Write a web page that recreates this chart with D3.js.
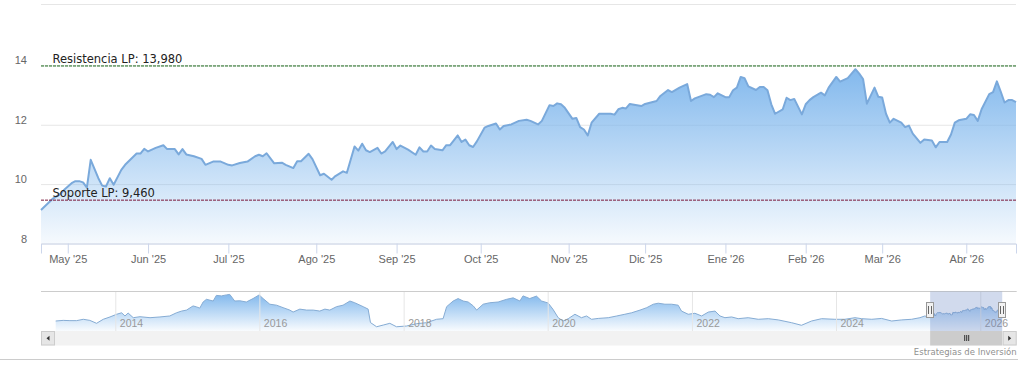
<!DOCTYPE html>
<meta charset="utf-8">
<style>
body { margin: 0; background: #fff; }
svg { font-family: "DejaVu Sans", sans-serif; }
.grid line { stroke: #e6e6e6; }
.grid path { display: none; }
.axis--x path, .axis--x line { stroke: #ccd6eb; }
.axis text { fill: #666; font-size: 11px; }
.nav-axis line { stroke: #e6e6e6; }
.nav-axis path { display: none; }
.nav-axis text { fill: #999; font-size: 10.5px; }
</style>
<body>
<script src="https://d3js.org/d3.v7.min.js"></script>
<script>

// Daily closes shown in the main window
var mainDates = ["2025-04-22","2025-04-25","2025-04-29","2025-04-30","2025-05-05","2025-05-06","2025-05-07","2025-05-08","2025-05-09","2025-05-12",
  "2025-05-14","2025-05-15","2025-05-16","2025-05-19","2025-05-20","2025-05-22","2025-05-23","2025-05-28","2025-05-29","2025-05-30",
  "2025-06-02","2025-06-04","2025-06-06","2025-06-09","2025-06-11","2025-06-12","2025-06-13","2025-06-16","2025-06-18","2025-06-20",
  "2025-06-23","2025-06-25","2025-06-27","2025-07-01","2025-07-02","2025-07-04","2025-07-08","2025-07-10","2025-07-11","2025-07-14",
  "2025-07-15","2025-07-17","2025-07-21","2025-07-22","2025-07-24","2025-07-25","2025-07-28","2025-07-30","2025-07-31","2025-08-04",
  "2025-08-05","2025-08-07","2025-08-08","2025-08-12","2025-08-13","2025-08-15","2025-08-18","2025-08-19","2025-08-20","2025-08-21",
  "2025-08-25","2025-08-26","2025-08-27","2025-08-29","2025-09-01","2025-09-02","2025-09-04","2025-09-08","2025-09-09","2025-09-10",
  "2025-09-11","2025-09-12","2025-09-15","2025-09-17","2025-09-18","2025-09-19","2025-09-23","2025-09-24","2025-09-25","2025-09-26",
  "2025-09-29","2025-09-30","2025-10-02","2025-10-03","2025-10-07","2025-10-08","2025-10-09","2025-10-13","2025-10-14","2025-10-15",
  "2025-10-17","2025-10-20","2025-10-22","2025-10-23","2025-10-27","2025-10-28","2025-10-29","2025-10-30","2025-10-31","2025-11-04",
  "2025-11-05","2025-11-06","2025-11-07","2025-11-10","2025-11-11","2025-11-13","2025-11-18","2025-11-19","2025-11-20","2025-11-21",
  "2025-11-24","2025-11-25","2025-11-28","2025-12-01","2025-12-04","2025-12-05","2025-12-09","2025-12-10","2025-12-12","2025-12-16",
  "2025-12-17","2025-12-18","2025-12-23","2025-12-24","2025-12-29","2025-12-30","2026-01-02","2026-01-05","2026-01-06","2026-01-07",
  "2026-01-08","2026-01-09","2026-01-12","2026-01-14","2026-01-15","2026-01-16","2026-01-19","2026-01-20","2026-01-21","2026-01-23",
  "2026-01-26","2026-01-27","2026-01-28","2026-01-30","2026-02-02","2026-02-03","2026-02-04","2026-02-06","2026-02-09","2026-02-10",
  "2026-02-12","2026-02-13","2026-02-17","2026-02-19","2026-02-20","2026-02-23","2026-02-24","2026-02-26","2026-02-27","2026-03-02",
  "2026-03-03","2026-03-04","2026-03-05","2026-03-09","2026-03-10","2026-03-11","2026-03-12","2026-03-16","2026-03-17","2026-03-19",
  "2026-03-20","2026-03-23","2026-03-25","2026-03-26","2026-03-27","2026-03-30","2026-04-01","2026-04-02","2026-04-07","2026-04-08",
  "2026-04-09","2026-04-13","2026-04-14","2026-04-15","2026-04-16","2026-04-17","2026-04-20","2026-04-21","2026-04-22"];
var mainCloses = [9.13,9.50,9.66,9.80,10.03,10.10,10.10,10.06,9.88,10.82,
  10.20,9.95,9.92,10.20,9.98,10.48,10.65,11.03,11.03,11.19,
  11.10,11.22,11.31,11.18,11.18,11.00,11.18,11.00,10.94,10.85,
  10.65,10.76,10.76,10.65,10.63,10.71,10.76,10.94,10.99,10.94,
  11.04,10.70,10.72,10.65,10.54,10.77,10.77,11.02,10.84,10.30,
  10.35,10.15,10.27,10.43,10.38,11.27,11.13,11.36,11.14,11.08,
  11.22,11.03,11.10,11.42,11.18,11.30,11.16,10.99,11.24,11.10,
  11.10,11.30,11.18,11.14,11.31,11.31,11.64,11.42,11.50,11.31,
  11.25,11.44,11.90,11.96,12.04,11.84,11.96,12.01,12.07,12.13,
  12.17,12.13,12.01,12.13,12.66,12.63,12.72,12.69,12.57,12.20,
  12.23,11.92,11.84,11.64,12.07,12.37,12.37,12.34,12.52,12.57,
  12.55,12.70,12.63,12.70,12.80,12.97,13.17,13.10,13.25,13.37,
  12.80,12.89,13.03,13.01,12.93,13.06,12.93,12.93,13.16,13.25,
  13.61,13.57,13.29,13.17,13.27,13.27,13.16,12.69,12.37,12.52,
  12.91,12.83,12.87,12.35,12.69,12.83,12.93,13.08,12.99,13.25,
  13.61,13.45,13.57,13.87,13.72,13.54,12.71,13.25,12.94,12.92,
  12.37,12.07,12.20,12.07,11.92,11.97,11.70,11.39,11.50,11.47,
  11.24,11.42,11.42,11.67,12.07,12.15,12.20,12.35,12.33,12.13,
  12.52,13.03,13.10,13.46,13.12,12.75,12.83,12.83,12.76];

// Market holidays inside the window (no trading, no slot on the ordinal axis)
var holidays = ["2025-05-01","2025-12-25","2025-12-26","2026-01-01","2026-04-03","2026-04-06"];

var monthNames = ["Ene","Feb","Mar","Abr","May","Jun","Jul","Ago","Sep","Oct","Nov","Dic"];

// Long-term levels
var levelValues = [13.98, 9.46];
var levelLabels = ["Resistencia LP: 13,980", "Soporte LP: 9,460"];

var yTicks = [8, 10, 12, 14];

// Navigator history before the main window
var navDates = ["2013-03-05","2013-04-12","2013-05-16","2013-06-19","2013-07-23","2013-08-25","2013-09-28","2013-11-01","2013-12-05","2014-01-08",
  "2014-02-02","2014-02-19","2014-03-07","2014-04-02","2014-05-06","2014-06-26","2014-08-15","2014-10-04","2014-11-07","2014-12-03",
  "2014-12-28","2015-01-30","2015-02-17","2015-03-05","2015-03-22","2015-04-08","2015-05-12","2015-05-28","2015-06-23","2015-07-18",
  "2015-08-04","2015-08-29","2015-09-24","2015-10-27","2015-11-30","2015-12-31","2016-01-20","2016-02-23","2016-03-28","2016-04-30",
  "2016-06-03","2016-06-20","2016-07-24","2016-08-27","2016-09-30","2016-11-02","2016-11-28","2016-12-23","2017-01-26","2017-02-28",
  "2017-04-04","2017-04-28","2017-06-10","2017-07-05","2017-07-17","2017-08-17","2017-09-20","2017-10-23","2017-11-26","2018-01-16",
  "2018-03-07","2018-04-27","2018-06-17","2018-07-20","2018-08-07","2018-09-09","2018-10-04","2018-10-30","2018-11-24","2018-12-20",
  "2019-01-06","2019-02-08","2019-03-13","2019-04-25","2019-06-07","2019-07-10","2019-08-13","2019-08-29","2019-10-02","2019-11-05",
  "2019-12-01","2020-01-03","2020-01-28","2020-02-23","2020-03-19","2020-04-14","2020-05-18","2020-06-20","2020-07-16","2020-08-10",
  "2020-09-13","2020-11-03","2020-12-16","2021-01-26","2021-03-01","2021-04-13","2021-05-17","2021-06-19","2021-07-14","2021-08-17",
  "2021-09-20","2021-10-23","2021-11-09","2021-12-13","2022-01-16","2022-02-19","2022-03-25","2022-04-28","2022-05-23","2022-06-17",
  "2022-07-21","2022-08-23","2022-10-13","2022-12-03","2023-01-23","2023-03-14","2023-05-21","2023-07-10","2023-08-30","2023-10-20",
  "2023-12-26","2024-02-15","2024-04-06","2024-05-10","2024-06-30","2024-08-19","2024-10-09","2024-11-29","2025-01-18","2025-03-01",
  "2025-03-26"];
var navCloses = [7.75,8.0,7.9,7.9,8.45,8.0,6.8,8.45,9.4,10.5,
  11.1,9.8,11.0,9.1,9.5,9.1,9.4,9.8,11.1,11.8,
  12.2,13.9,13.5,13.0,15.5,16.6,15.9,18.2,18.0,18.4,
  18.6,15.9,16.0,15.5,16.9,18.4,16.9,14.6,14.2,13.2,
  12.2,11.4,12.6,12.2,12.2,11.8,12.6,12.2,13.6,14.2,
  15.9,15.2,13.6,12.6,7.1,5.4,6.1,6.8,5.4,5.7,
  6.65,7.05,8.45,8.7,13.6,15.9,16.9,15.9,15.5,13.9,
  12.2,14.6,15.2,15.5,16.6,17.2,15.9,18.0,16.9,17.9,
  15.9,15.1,12.5,9.1,7.75,8.7,10.5,9.1,9.8,8.45,
  8.8,9.1,9.8,10.5,11.1,12.2,13.2,14.6,15.0,14.6,
  14.6,14.2,11.8,10.5,10.9,9.8,11.4,11.8,9.8,9.1,
  9.4,8.7,9.1,8.45,8.7,8.2,7.05,6.0,7.75,8.7,
  8.45,8.45,9.1,8.7,8.45,8.8,7.75,8.2,8.45,9.1,
  9.8];

var parse = d3.timeParse("%Y-%m-%d");
var fmt = d3.timeFormat("%Y-%m-%d");

// trading calendar: weekdays without holidays, so the axis is ordinal like the original
var days = d3.timeDay.range(parse(mainDates[0]), d3.timeDay.offset(parse(mainDates[mainDates.length - 1]), 1))
  .filter(function(d) { return d.getDay() != 0 && d.getDay() != 6 && holidays.indexOf(fmt(d)) < 0; });
var dayIndex = {};
days.forEach(function(d, i) { dayIndex[fmt(d)] = i; });

var series = mainDates.map(function(d, i) { return { i: dayIndex[d], date: parse(d), v: mainCloses[i] }; });

// first trading day of every month gets a tick
var monthTicks = [];
days.forEach(function(d, i) {
  if (i > 0 && d.getMonth() != days[i - 1].getMonth()) monthTicks.push(i);
});

var svg = d3.select("body").append("svg").attr("width", 1026).attr("height", 370);

var plotLeft = 41, plotRight = 1016, plotTop = 4.5, plotBottom = 243.5;

var x = d3.scaleLinear().domain([0, days.length - 1]).range([plotLeft, plotRight]);
var y = d3.scaleLinear().domain([8, 16.05]).range([plotBottom, plotTop]);

var defs = svg.append("defs");
function gradient(id, a, b) {
  var g = defs.append("linearGradient").attr("id", id)
    .attr("x1", 0).attr("y1", 0).attr("x2", 0).attr("y2", 1);
  g.append("stop").attr("offset", 0).attr("stop-color", "#7cb5ec").attr("stop-opacity", a);
  g.append("stop").attr("offset", 1).attr("stop-color", "#7cb5ec").attr("stop-opacity", b);
}
gradient("mainFill", 0.95, 0.07);
gradient("navFill", 0.95, 0.05);

// top border
svg.append("line")
  .attr("x1", plotLeft).attr("x2", plotRight).attr("y1", plotTop).attr("y2", plotTop)
  .attr("stroke", "#e6e6e6");

// horizontal grid + y labels
var yAxis = svg.append("g")
  .attr("class", "axis grid")
  .attr("transform", "translate(" + plotLeft + ",0)")
  .call(d3.axisLeft(y).tickValues(yTicks).tickSize(-(plotRight - plotLeft)).tickFormat(d3.format("d")));
yAxis.selectAll("text").attr("x", -14).attr("y", -1.5).attr("dy", 0);

// area + line
var area = d3.area()
  .x(function(d) { return x(d.i); })
  .y0(plotBottom)
  .y1(function(d) { return y(d.v); });

var line = d3.line()
  .x(function(d) { return x(d.i); })
  .y(function(d) { return y(d.v); });

svg.append("path")
  .attr("d", area(series))
  .attr("fill", "url(#mainFill)");

svg.append("path")
  .attr("d", line(series))
  .attr("fill", "none")
  .attr("stroke", "#7aa9db")
  .attr("stroke-width", 2)
  .attr("stroke-linejoin", "round");

// x axis
var xAxis = svg.append("g")
  .attr("class", "axis axis--x")
  .attr("transform", "translate(0," + plotBottom + ")")
  .call(d3.axisBottom(x).tickValues(monthTicks).tickSize(10)
    .tickFormat(function(i) {
      var d = days[i];
      return monthNames[d.getMonth()] + " '" + String(d.getFullYear()).slice(2);
    }));
xAxis.selectAll("text").attr("y", 19.5).attr("dy", 0);

// resistance / support
var levelColors = ["#1d6b1d", "#7a1638"];
levelValues.forEach(function(v, i) {
  svg.append("line")
    .attr("x1", plotLeft).attr("x2", plotRight)
    .attr("y1", y(v)).attr("y2", y(v))
    .attr("stroke", levelColors[i])
    .attr("stroke-dasharray", "3,1");
  svg.append("text")
    .attr("x", plotLeft + 11.5)
    .attr("y", y(v) - 3)
    .attr("font-size", "11.5px")
    .attr("fill", "#222")
    .text(levelLabels[i]);
});

// ---- navigator ----
var navTop = 291, navBottom = 331, navRight = 1016.7;

var navSeries = navDates.map(function(d, i) { return { date: parse(d), v: navCloses[i] }; })
  .concat(series.map(function(d) { return { date: d.date, v: d.v }; }));

var nx = d3.scaleTime()
  .domain([new Date(2014, 0, 1), new Date(2026, 0, 1)])
  .range([115.3, 980.3]);
var ny = d3.scaleLinear().domain([3.67, 19.99]).range([navBottom, navTop]);

var navAxis = svg.append("g")
  .attr("class", "nav-axis")
  .attr("transform", "translate(0," + navBottom + ")")
  .call(d3.axisTop(nx).ticks(d3.timeYear.every(2)).tickSize(navBottom - navTop).tickFormat(d3.timeFormat("%Y")));
navAxis.selectAll("text").attr("text-anchor", "start").attr("x", 4).attr("y", -4).attr("dy", 0);

svg.append("path")
  .datum(navSeries)
  .attr("d", d3.area().x(function(d) { return nx(d.date); }).y0(navBottom).y1(function(d) { return ny(d.v); }))
  .attr("fill", "url(#navFill)");
svg.append("path")
  .datum(navSeries)
  .attr("d", d3.line().x(function(d) { return nx(d.date); }).y(function(d) { return ny(d.v); }))
  .attr("fill", "none")
  .attr("stroke", "#86acd4")
  .attr("stroke-width", 1);

// year labels sit over the series
navAxis.raise();

svg.append("line")
  .attr("x1", plotLeft).attr("x2", navRight).attr("y1", navTop + 0.5).attr("y2", navTop + 0.5)
  .attr("stroke", "#cccccc");

var x0 = nx(series[0].date), x1 = nx(series[series.length - 1].date);

svg.append("rect")
  .attr("x", x0).attr("y", navTop + 0.5)
  .attr("width", x1 - x0).attr("height", navBottom - navTop - 0.5)
  .attr("fill", "rgba(102,133,194,0.3)");

// scrollbar
var sbTop = navBottom, sbH = 14.5, btn = 14;
svg.append("rect").attr("x", plotLeft).attr("y", sbTop).attr("width", navRight - plotLeft).attr("height", sbH)
  .attr("fill", "#f2f2f2");
svg.append("rect").attr("x", x0).attr("y", sbTop).attr("width", x1 - x0).attr("height", sbH)
  .attr("fill", "#cccccc");
[-2, 0, 2].forEach(function(o) {
  svg.append("line")
    .attr("x1", (x0 + x1) / 2 + o + 0.5).attr("x2", (x0 + x1) / 2 + o + 0.5)
    .attr("y1", sbTop + 4).attr("y2", sbTop + 10)
    .attr("stroke", "#333");
});
// dir -1 = arrow pointing left, 1 = right
[[plotLeft, -1], [navRight - btn, 1]].forEach(function(b) {
  svg.append("rect").attr("x", b[0] + 0.5).attr("y", sbTop + 0.5).attr("width", btn - 1).attr("height", sbH - 1)
    .attr("fill", "#e6e6e6").attr("stroke", "#cccccc");
  var cx = b[0] + btn / 2, cy = sbTop + sbH / 2, d = b[1];
  svg.append("path")
    .attr("d", "M" + (cx + 1.5 * d) + "," + cy + "L" + (cx - 1.5 * d) + "," + (cy - 2.5) + "L" + (cx - 1.5 * d) + "," + (cy + 2.5) + "Z")
    .attr("fill", "#333");
});

// handles
[x0, x1].forEach(function(hx) {
  svg.append("rect")
    .attr("x", Math.round(hx) - 3.5).attr("y", 302.5)
    .attr("width", 7).attr("height", 15)
    .attr("fill", "#f2f2f2").attr("stroke", "#999");
  [-1, 1].forEach(function(o) {
    svg.append("line")
      .attr("x1", Math.round(hx) + o * 1.5).attr("x2", Math.round(hx) + o * 1.5)
      .attr("y1", 306).attr("y2", 314)
      .attr("stroke", "#666");
  });
});

// credits + bottom rule
svg.append("text")
  .attr("x", navRight).attr("y", 354.5)
  .attr("text-anchor", "end")
  .attr("font-size", "8.5px")
  .attr("fill", "#909090")
  .text("Estrategias de Inversión");

svg.append("line")
  .attr("x1", 0).attr("x2", 1018).attr("y1", 359.5).attr("y2", 359.5)
  .attr("stroke", "#cccccc");

</script>
